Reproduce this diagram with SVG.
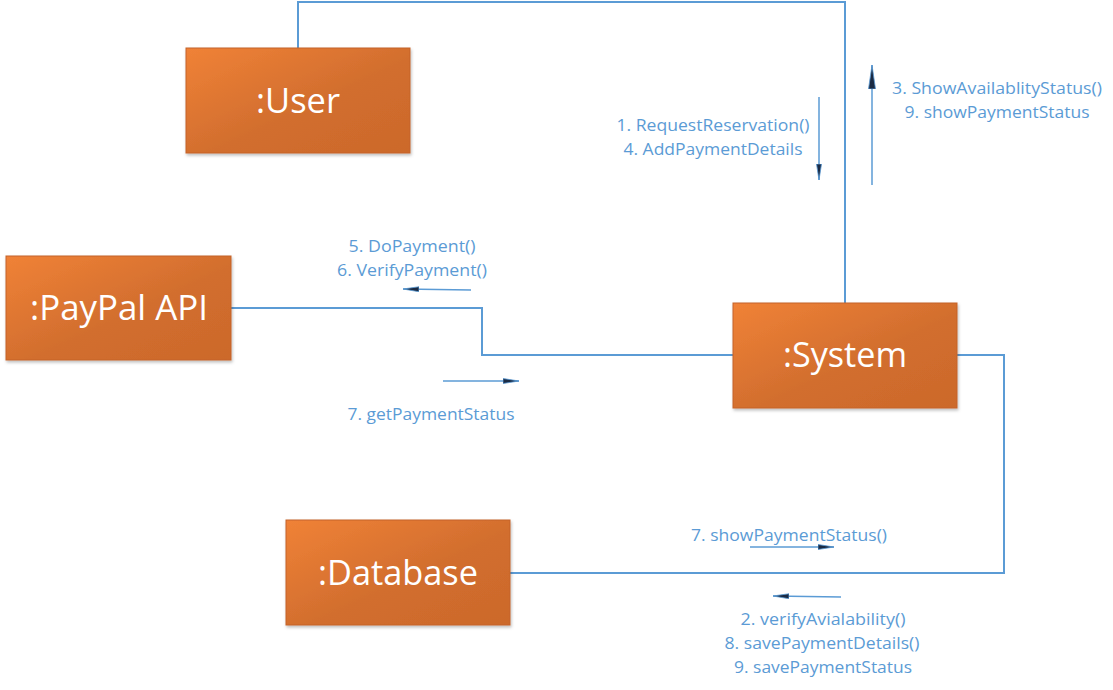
<svg xmlns="http://www.w3.org/2000/svg" width="1113" height="690" viewBox="0 0 1113 690">
<defs>
  <linearGradient id="orange" x1="0" y1="0" x2="1" y2="1">
    <stop offset="0" stop-color="#F08237"/>
    <stop offset="0.55" stop-color="#D26E2E"/>
    <stop offset="1" stop-color="#CC692B"/>
  </linearGradient>
  <filter id="shadow" x="-5%" y="-5%" width="115%" height="120%">
    <feDropShadow dx="1" dy="2" stdDeviation="1.5" flood-color="#000" flood-opacity="0.25"/>
  </filter>
  <marker id="head" viewBox="0 0 16 6" refX="16" refY="3" markerWidth="16" markerHeight="6" markerUnits="userSpaceOnUse" orient="auto">
    <path d="M0,0.5 L16,3 L0,5.5 Z" fill="#1B2B44" stroke="#5B9BD5" stroke-width="0.8"/>
  </marker>
  <marker id="headL" viewBox="0 0 24 8" refX="24" refY="4" markerWidth="24" markerHeight="8" markerUnits="userSpaceOnUse" orient="auto">
    <path d="M0,0.5 L24,4 L0,7.5 Z" fill="#1B2B44" stroke="#5B9BD5" stroke-width="0.8"/>
  </marker>
</defs>
<style>
  .node rect { fill: url(#orange); stroke: #C4622A; stroke-width: 1; filter: url(#shadow); }
  .node text { font-family: "Open Sans", "Liberation Sans", sans-serif; font-size: 34px; fill: #FFFFFF; text-anchor: middle; }
  .conn { fill: none; stroke: #5B9BD5; stroke-width: 2; }
  .msg { fill: none; stroke: #5B9BD5; stroke-width: 1.5; }
  .lbl { font-family: "Open Sans", "Liberation Sans", sans-serif; font-size: 15.5px; fill: #5B9BD5; text-anchor: middle; }
</style>
<rect width="1113" height="690" fill="#FFFFFF"/>

<g id="connectors">
  <polyline class="conn" points="298,48 298,2 845,2 845,303"/>
  <polyline class="conn" points="231,308 482,308 482,355 733,355"/>
  <polyline class="conn" points="957,355 1004,355 1004,573 510,573"/>
</g>

<g id="messages">
  <line class="msg" x1="819" y1="97" x2="819" y2="180" marker-end="url(#head)"/>
  <line class="msg" x1="872" y1="185" x2="872" y2="65" marker-end="url(#headL)"/>
  <line class="msg" x1="471" y1="290" x2="403" y2="289" marker-end="url(#head)"/>
  <line class="msg" x1="443" y1="381" x2="519" y2="381" marker-end="url(#head)"/>
  <line class="msg" x1="750" y1="547" x2="834" y2="547" marker-end="url(#head)"/>
  <line class="msg" x1="841" y1="597" x2="773" y2="596" marker-end="url(#head)"/>
</g>

<g id="labels">
  <text class="lbl" x="713" y="131" textLength="193" lengthAdjust="spacingAndGlyphs">1. RequestReservation()</text>
  <text class="lbl" x="713" y="155" textLength="179" lengthAdjust="spacingAndGlyphs">4. AddPaymentDetails</text>
  <text class="lbl" x="997" y="94" textLength="210" lengthAdjust="spacingAndGlyphs">3. ShowAvailablityStatus()</text>
  <text class="lbl" x="997" y="118" textLength="185" lengthAdjust="spacingAndGlyphs">9. showPaymentStatus</text>
  <text class="lbl" x="412" y="252" textLength="127" lengthAdjust="spacingAndGlyphs">5. DoPayment()</text>
  <text class="lbl" x="412" y="276" textLength="150" lengthAdjust="spacingAndGlyphs">6. VerifyPayment()</text>
  <text class="lbl" x="431" y="420" textLength="167" lengthAdjust="spacingAndGlyphs">7. getPaymentStatus</text>
  <text class="lbl" x="789" y="541" textLength="196" lengthAdjust="spacingAndGlyphs">7. showPaymentStatus()</text>
  <text class="lbl" x="823" y="625" textLength="165" lengthAdjust="spacingAndGlyphs">2. verifyAvialability()</text>
  <text class="lbl" x="822" y="649" textLength="195" lengthAdjust="spacingAndGlyphs">8. savePaymentDetails()</text>
  <text class="lbl" x="823" y="673" textLength="178" lengthAdjust="spacingAndGlyphs">9. savePaymentStatus</text>
</g>

<g id="user" class="node">
  <rect x="186" y="48" width="224" height="105"/>
  <text x="298" y="113" textLength="84" lengthAdjust="spacingAndGlyphs">:User</text>
</g>
<g id="paypal" class="node">
  <rect x="6" y="256" width="225" height="104"/>
  <text x="119" y="320" textLength="178" lengthAdjust="spacingAndGlyphs">:PayPal API</text>
</g>
<g id="system" class="node">
  <rect x="733" y="303" width="224" height="105"/>
  <text x="845" y="367" textLength="124" lengthAdjust="spacingAndGlyphs">:System</text>
</g>
<g id="database" class="node">
  <rect x="286" y="520" width="224" height="105"/>
  <text x="398" y="585" textLength="160" lengthAdjust="spacingAndGlyphs">:Database</text>
</g>
</svg>
